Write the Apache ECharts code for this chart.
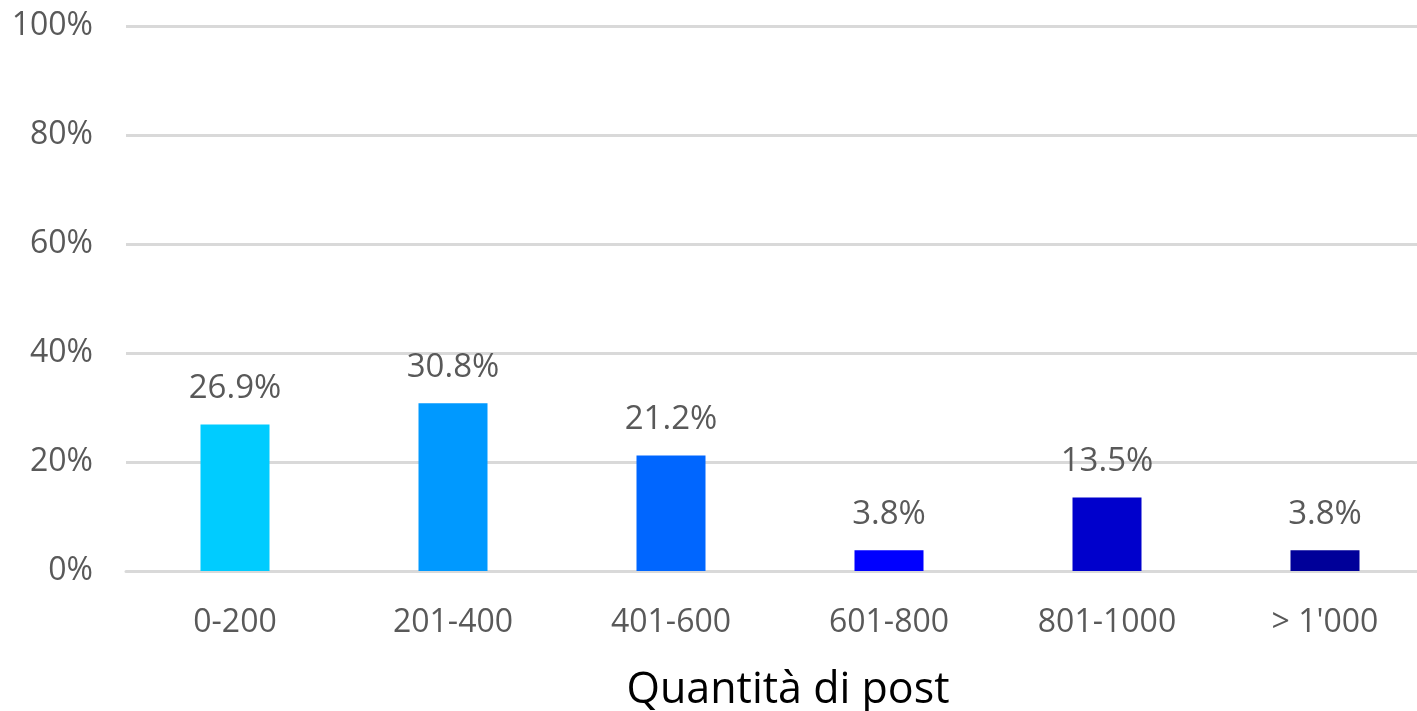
<!DOCTYPE html>
<html>
<head>
<meta charset="utf-8">
<script src="https://cdn.jsdelivr.net/npm/echarts@6/dist/echarts.min.js"></script>
<style>
  html, body { margin: 0; padding: 0; background: #fff; }
  #main { width: 1417px; height: 711px; }
</style>
</head>
<body>
<div id="main"></div>
<script>
// dati
const categories = ['0-200', '201-400', '401-600', '601-800', '801-1000', "> 1'000"];
const values = [26.9, 30.8, 21.2, 3.8, 13.5, 3.8];
const barColors = ['#00CCFF', '#0099FF', '#0066FF', '#0000FF', '#0000CC', '#000099'];
const axisTitle = 'Quantità di post';

const chart = echarts.init(document.getElementById('main'));

const option = {
  animation: false,
  // il grafico originale è tagliato a destra
  grid: { left: 126, right: -17, top: 26, bottom: 140, outerBoundsMode: 'none' },
  xAxis: {
    type: 'category',
    data: categories,
    name: axisTitle,
    nameLocation: 'middle',
    nameGap: 98,
    nameTextStyle: { color: '#000', fontSize: 43, fontFamily: 'Open Sans', padding: [0, 0, 0, 16] },
    axisLine: { lineStyle: { color: '#d9d9d9', width: 3 } },
    axisTick: { show: false },
    axisLabel: { color: '#595959', fontSize: 32, fontFamily: 'Open Sans', margin: 36 }
  },
  yAxis: {
    type: 'value',
    min: 0,
    max: 100,
    interval: 20,
    axisLine: { show: false },
    axisTick: { show: false },
    splitLine: { lineStyle: { color: '#d9d9d9', width: 3 } },
    axisLabel: {
      color: '#595959', fontSize: 32, fontFamily: 'Open Sans', margin: 33,
      formatter: v => v + '%'
    }
  },
  series: [{
    type: 'bar',
    barWidth: 69,
    data: values.map((v, i) => ({ value: v, itemStyle: { color: barColors[i] } })),
    label: {
      show: true,
      position: 'top',
      distance: 19,
      color: '#595959',
      fontSize: 33,
      fontFamily: 'Open Sans',
      formatter: p => p.value.toFixed(1) + '%'
    }
  }]
};

chart.setOption(option);
</script>
</body>
</html>
